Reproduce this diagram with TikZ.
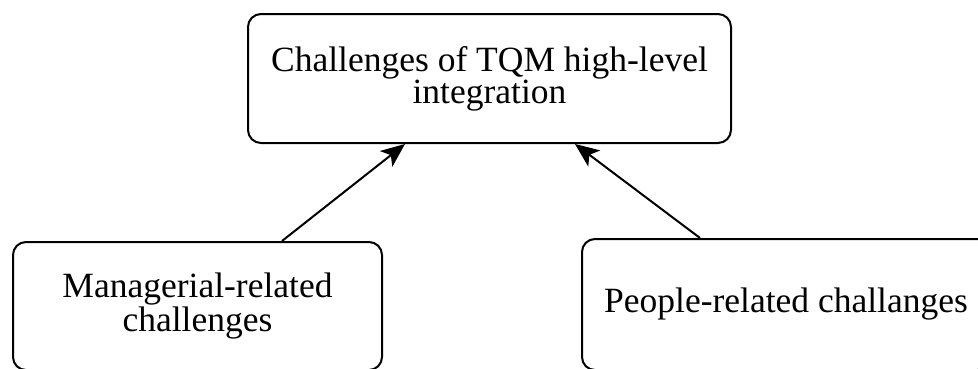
\documentclass[tikz,border=0pt]{standalone}
\usepackage{fontspec}
\setmainfont{Liberation Serif}
\usetikzlibrary{arrows.meta}
\begin{document}
\begin{tikzpicture}[x=1pt,y=-1pt,
  box/.style={draw=black, line width=2pt, rounded corners=13pt, fill=white,
    align=center, inner sep=0pt, font=\fontsize{35.5}{27}\selectfont},
  link/.style={line width=2pt, -{Stealth[length=24pt,width=20pt,inset=6pt]}}]
\useasboundingbox (0,0) rectangle (978,368);
\clip (0,0) rectangle (978,368);
% goal box
\node[box, minimum width=483pt, minimum height=129pt] (goal) at (489.5,78.5)
  {Challenges of TQM high-level\\integration};
% contributing challenge boxes
\node[box, minimum width=369pt, minimum height=128pt] (mgr) at (197.5,306)
  {Managerial-related\\challenges};
\node[box, minimum width=408pt, minimum height=131pt] (ppl) at (786,304.5)
  {People-related challanges};
% connectors
\draw[link] ([xshift=84.5pt]mgr.north) -- ([xshift=-84.5pt]goal.south);
\draw[link] ([xshift=-86pt]ppl.north) -- ([xshift=85.5pt]goal.south);
\end{tikzpicture}
\end{document}
